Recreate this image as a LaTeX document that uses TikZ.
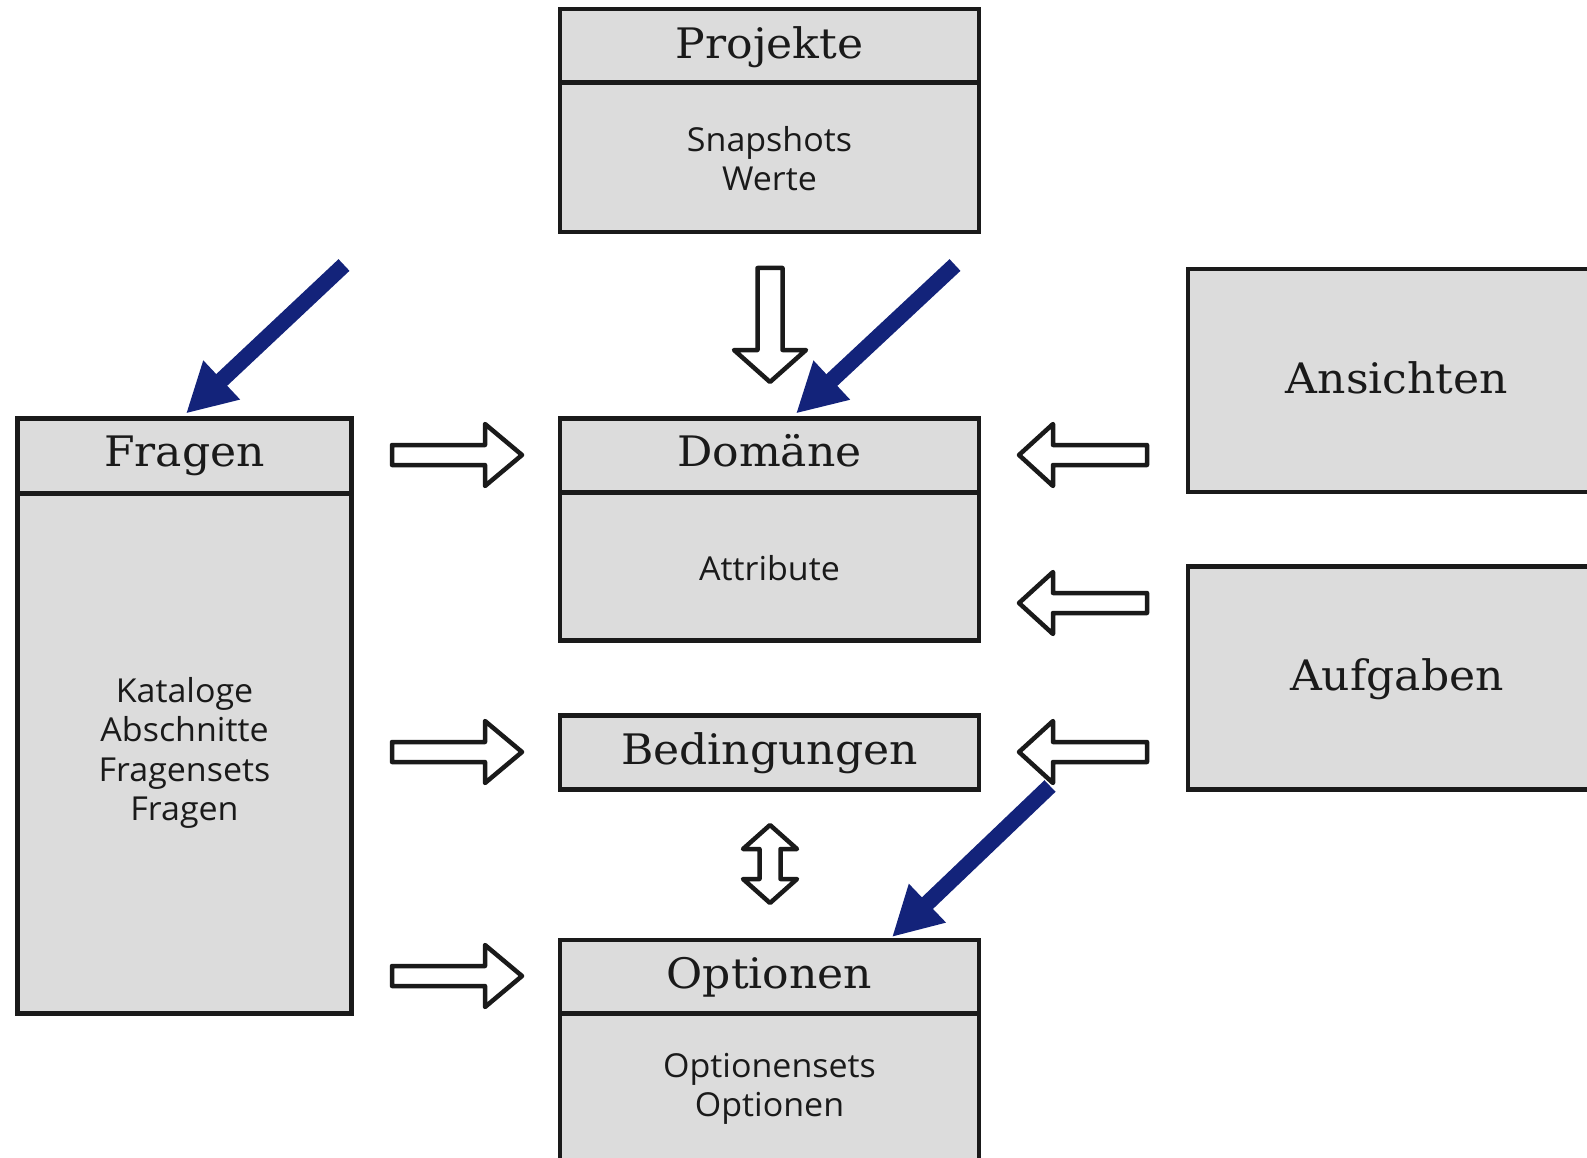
\documentclass[tikz,border=0pt]{standalone}
\usepackage{fontspec}
\newfontfamily\titlefont[FakeStretch=1.05]{DejaVu Serif}
\newfontfamily\bodyfont[FakeStretch=1.03]{Open Sans}
\usetikzlibrary{arrows.meta,calc}
\definecolor{boxfill}{RGB}{220,220,220}
\definecolor{boxline}{RGB}{26,26,26}
\definecolor{navyblue}{RGB}{19,35,122}
\tikzset{
  box/.style={draw=boxline, fill=boxfill, line width=4.5pt, rectangle, inner sep=0pt, outer sep=0pt},
  sepline/.style={draw=boxline, line width=4.5pt},
  title/.style={font=\titlefont\fontsize{42}{50}\selectfont, text=boxline, inner sep=0pt, anchor=base},
  body/.style={font=\bodyfont\fontsize{33}{39.3}\selectfont, text=boxline, align=center, inner sep=0pt, anchor=base},
  hollow/.style={draw=boxline, fill=white, line width=4.5pt, line join=round},
  bluearrow/.style={draw=navyblue, line width=16pt, -{Triangle[length=49pt,width=50pt]}},
  pics/rarrow/.style={code={\path[hollow] (-65,-10) -- (28,-10) -- (28,-31) -- (65,0) -- (28,31) -- (28,10) -- (-65,10) -- cycle;}},
  pics/larrow/.style={code={\path[hollow] (64,-10) -- (-30,-10) -- (-30,-31) -- (-64,0) -- (-30,31) -- (-30,10) -- (64,10) -- cycle;}},
  pics/darrow/.style={code={\path[hollow] (-12.5,-57) -- (12.5,-57) -- (12.5,25) -- (36,25) -- (0,57) -- (-36,25) -- (-12.5,25) -- cycle;}},
  pics/dblarrow/.style={code={\path[hollow] (0,-39) -- (27,-15) -- (10.5,-15) -- (10.5,15) -- (27,15) -- (0,39) -- (-27,15) -- (-10.5,15) -- (-10.5,-15) -- (-27,-15) -- cycle;}}
}
\begin{document}
\begin{tikzpicture}[x=1pt,y=-1pt]
\useasboundingbox (0,0) rectangle (1587,1158);
\clip (0,0) rectangle (1587,1158);
\fill[white] (0,0) rectangle (1587,1158);

% boxes
\node[box, minimum width=419pt, minimum height=223pt] (proj) at (769.5,120.5) {};
\node[box, minimum width=419pt, minimum height=222pt] (dom) at (769.5,529.5) {};
\node[box, minimum width=419pt, minimum height=74pt] (bed) at (769.5,752.5) {};
\node[box, minimum width=419pt, minimum height=260pt] (opt) at (769.5,1070) {};
\node[box, minimum width=334pt, minimum height=595pt] (frag) at (184.5,716) {};
\node[box, minimum width=431pt, minimum height=223pt] (ans) at (1403.5,380.5) {};
\node[box, minimum width=431pt, minimum height=223pt] (auf) at (1403.5,678) {};

% header separators
\draw[sepline] ([yshift=-73.5pt]proj.north west) -- ([yshift=-73.5pt]proj.north east);
\draw[sepline] ([yshift=-74pt]dom.north west) -- ([yshift=-74pt]dom.north east);
\draw[sepline] ([yshift=-75pt]frag.north west) -- ([yshift=-75pt]frag.north east);
\draw[sepline] ([yshift=-73.5pt]opt.north west) -- ([yshift=-73.5pt]opt.north east);

% texts
\node[title] (tproj) at (769.5,58.5) {Projekte};
\node[body] (bproj) at (769.5,191) {Snapshots\\Werte};
\node[title] (tfrag) at (184.5,466.5) {Fragen};
\node[body] (bfrag) at (184.5,820.5) {Kataloge\\Abschnitte\\Fragensets\\Fragen};
\node[title] (tdom) at (769.5,466.5) {Domäne};
\node[body] (bdom) at (769.5,580) {Attribute};
\node[title] (tbed) at (769.5,764) {Bedingungen};
\node[title] (topt) at (769.5,988) {Optionen};
\node[body] (bopt) at (769.5,1116.5) {Optionensets\\Optionen};
\node[title] (tans) at (1397,393) {Ansichten};
\node[title] (tauf) at (1397,690) {Aufgaben};

% hollow block arrows
\pic at (457,455) {rarrow};
\pic at (457,752) {rarrow};
\pic at (457,976) {rarrow};
\pic at (1083,455) {larrow};
\pic at (1083,603) {larrow};
\pic at (1083,752) {larrow};
\pic at (770,325) {darrow};
\pic at (770,864) {dblarrow};

% blue arrows
\coordinate (s1) at (344,265);
\coordinate (s2) at (955,265);
\coordinate (s3) at (1050,786);
\draw[bluearrow] (s1) -- ($(frag.north)+(1.5,-5)$);
\draw[bluearrow] (s2) -- ($(dom.north)+(26.5,-5)$);
\draw[bluearrow] (s3) -- ($(opt.north)+(122.5,-3)$);
\end{tikzpicture}
\end{document}
